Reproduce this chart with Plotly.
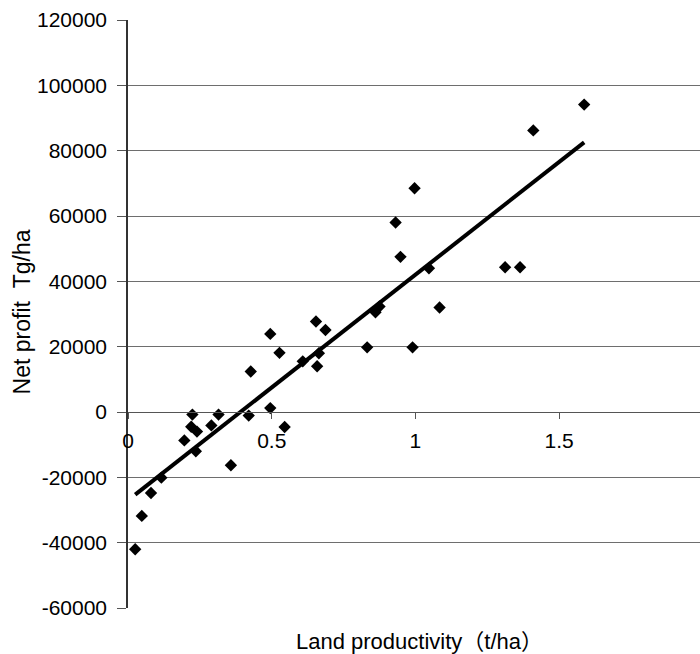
import numpy as np
import plotly.graph_objects as go

# Land productivity (t/ha)
land_productivity = [0.025, 0.048, 0.080, 0.116, 0.196, 0.224, 0.220, 0.240, 0.236, 0.290,
                     0.315, 0.358, 0.420, 0.427, 0.495, 0.495, 0.527, 0.545, 0.608, 0.654,
                     0.687, 0.664, 0.658, 0.832, 0.861, 0.875, 0.931, 0.948, 0.997, 0.990,
                     1.047, 1.084, 1.312, 1.364, 1.410, 1.587]
# Net profit (Tg/ha)
net_profit = [-42000, -31800, -24800, -20100, -8700, -800, -4500, -6000, -12000, -4100,
              -800, -16300, -1100, 12400, 23900, 1200, 18100, -4600, 15500, 27700,
              25100, 18000, 14000, 19800, 30500, 32300, 58000, 47500, 68500, 19800,
              44000, 32000, 44300, 44300, 86200, 94100]

y_tickvals = [-60000, -40000, -20000, 0, 20000, 40000, 60000, 80000, 100000, 120000]
y_ticktext = ["-60000", "-40000", "-20000", "0", "20000", "40000", "60000", "80000", "100000", "120000"]
x_tickvals = [0, 0.5, 1, 1.5]
x_ticktext = ["0", "0.5", "1", "1.5"]

x_title = "Land productivity（t/ha）"
y_title = "Net profit\u00a0\u00a0Tg/ha"

# linear trendline (least squares, as in the original spreadsheet chart)
xa = np.array(land_productivity)
ya = np.array(net_profit)
slope, intercept = np.polyfit(xa, ya, 1)
trend_x = [xa.min(), xa.max()]
trend_y = [slope * v + intercept for v in trend_x]

FONT = "Liberation Sans, Arial, Noto Sans CJK JP, sans-serif"

fig = go.Figure()
fig.add_trace(go.Scatter(
    x=land_productivity, y=net_profit, mode="markers",
    marker=dict(symbol="diamond", size=9.5, color="black"),
    showlegend=False,
))
fig.add_trace(go.Scatter(
    x=trend_x, y=trend_y, mode="lines",
    line=dict(color="black", width=4),
    showlegend=False,
))

fig.update_layout(
    width=700, height=654,
    margin=dict(l=128, r=0, t=20, b=46),
    paper_bgcolor="white", plot_bgcolor="white",
    font=dict(family=FONT, size=21, color="black"),
    xaxis=dict(
        range=[0, 1.99], tickvals=x_tickvals, ticktext=x_ticktext,
        showgrid=False, zeroline=False,
        showline=True, linecolor="#555", linewidth=1,
        ticks="outside", ticklen=6, tickcolor="#555",
        ticklabelstandoff=4,
        anchor="free", position=1/3,
        tickfont=dict(size=21),
    ),
    yaxis=dict(
        range=[-60000, 120000], tickvals=y_tickvals, ticktext=y_ticktext,
        showgrid=True, gridcolor="#6e6e6e", gridwidth=1,
        zeroline=False,
        showline=True, linecolor="#333", linewidth=1.5,
        ticks="outside", ticklen=9, tickcolor="#555",
        ticklabelstandoff=6,
        tickfont=dict(size=21),
    ),
    annotations=[
        dict(text=x_title, xref="paper", yref="paper", x=0.509, y=-0.057,
             xanchor="center", yanchor="middle", showarrow=False,
             font=dict(size=22)),
        dict(text=y_title, xref="paper", yref="paper", x=-0.185, y=0.503,
             xanchor="center", yanchor="middle", showarrow=False, textangle=-90,
             font=dict(size=23)),
    ],
)

fig.write_html("out.html")
